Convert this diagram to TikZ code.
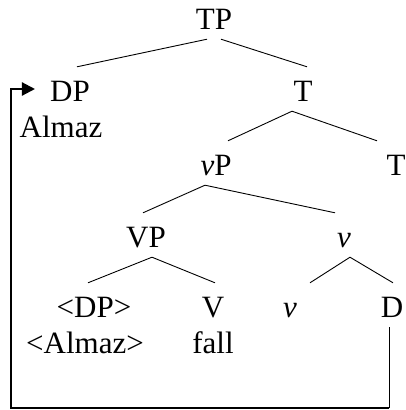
\documentclass[tikz,border=0pt]{standalone}
\usepackage{fontspec}
\setmainfont{Liberation Serif}
\usetikzlibrary{arrows.meta}
\tikzset{
  lab/.style={anchor=base, inner sep=0pt, text height=34pt, text depth=10pt, font=\fontsize{31}{36}\selectfont},
  word/.style={anchor=base, inner sep=0pt, font=\fontsize{31}{36}\selectfont},
  branch/.style={line width=0.9pt},
  movethin/.style={line width=1pt},
  movethick/.style={line width=2.2pt, -{Triangle[length=13pt,width=13pt]}, shorten >=15pt}
}
\begin{document}
\begin{tikzpicture}[x=1pt,y=-1pt]
\useasboundingbox (0,0) rectangle (405,410);
\node[lab] (TP) at (214,29) {TP};
\node[lab] (DP) at (70,101) {DP};
\node[lab] (T1) at (303,101) {T};
\node[word] (Almaz) at (61,137) {Almaz};
\node[lab] (vP) at (216,175) {\textit{v}P};
\node[lab] (T2) at (396,175) {T};
\node[lab] (VP) at (146,247) {VP};
\node[lab] (v1) at (344,247) {\textit{v}};
\node[lab] (DPt) at (94,317) {<DP>};
\node[lab] (V) at (213,317) {V};
\node[lab] (v2) at (290,317) {\textit{v}};
\node[lab] (D) at (392,317) {D};
\node[word] (AlmazT) at (85,353) {<Almaz>};
\node[word] (fall) at (213,353) {fall};
% branches
\draw[branch] ([xshift=-7pt]TP.south) -- ([xshift=7pt]DP.north);
\draw[branch] ([xshift=7pt]TP.south) -- ([xshift=4pt]T1.north);
\draw[branch] ([xshift=-11pt]T1.south) -- ([xshift=12pt]vP.north);
\draw[branch] ([xshift=-11pt]T1.south) -- ([xshift=-19pt]T2.north);
\draw[branch] ([xshift=-11pt]vP.south) -- ([xshift=-3pt]VP.north);
\draw[branch] ([xshift=-11pt]vP.south) -- ([xshift=-9pt]v1.north);
\draw[branch] ([xshift=6pt]VP.south) -- ([xshift=-6pt]DPt.north);
\draw[branch] ([xshift=6pt]VP.south) -- ([xshift=2pt]V.north);
\draw[branch] ([xshift=6pt]v1.south) -- ([xshift=20pt]v2.north);
\draw[branch] ([xshift=6pt]v1.south) -- ([xshift=1pt]D.north);
% movement arrow
\coordinate (bl) at (11,408);
\coordinate (br) at ([xshift=-3pt]D.south |- bl);
\draw[movethin] ([xshift=-3pt]D.south) -- (br);
\draw[movethick] (br) -- (bl) |- (DP.west);
\end{tikzpicture}
\end{document}
